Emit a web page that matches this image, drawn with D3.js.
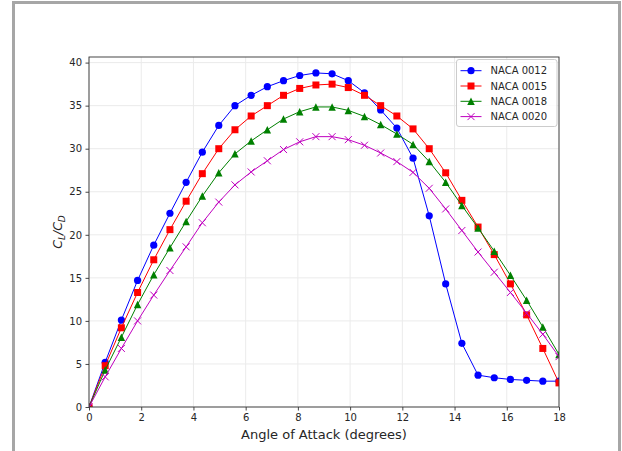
<!DOCTYPE html>
<html>
<head>
<meta charset="utf-8">
<script src="https://cdn.jsdelivr.net/npm/d3@7/dist/d3.min.js"></script>
<style>
  html, body { margin: 0; padding: 0; background: #fff; }
  svg { display: block; font-family: "DejaVu Sans", sans-serif; }
</style>
</head>
<body>
<svg id="chart" width="622" height="451"></svg>
<script>
const angles = [0, 0.62, 1.24, 1.86, 2.48, 3.10, 3.72, 4.34, 4.97, 5.59, 6.21, 6.83, 7.45, 8.07, 8.69,
  9.31, 9.93, 10.55, 11.17, 11.79, 12.41, 13.03, 13.66, 14.28, 14.90, 15.52, 16.14, 16.76, 17.38, 18.00];
const naca0012 = [0, 5.2, 10.1, 14.7, 18.8, 22.5, 26.1, 29.6, 32.7, 35.0, 36.2, 37.2, 37.9, 38.5, 38.8,
  38.7, 37.9, 36.5, 34.5, 32.4, 28.9, 22.2, 14.3, 7.4, 3.7, 3.4, 3.2, 3.1, 3.0, 3.0];
const naca0015 = [0, 4.8, 9.2, 13.3, 17.1, 20.6, 23.9, 27.1, 30.0, 32.2, 33.8, 35.0, 36.2, 37.0, 37.4,
  37.5, 37.1, 36.2, 35.0, 33.8, 32.3, 30.0, 27.2, 24.0, 20.9, 17.7, 14.3, 10.7, 6.8, 2.8];
const naca0018 = [0, 4.3, 8.1, 11.9, 15.35, 18.5, 21.55, 24.5, 27.2, 29.4, 30.9, 32.2, 33.45, 34.3, 34.85,
  34.85, 34.45, 33.75, 32.8, 31.7, 30.5, 28.5, 26.1, 23.4, 20.8, 18.1, 15.3, 12.4, 9.3, 6.1];
const naca0020 = [0, 3.5, 6.8, 10.0, 13.0, 15.85, 18.6, 21.4, 23.8, 25.8, 27.3, 28.6, 29.9, 30.8, 31.4,
  31.4, 31.05, 30.4, 29.5, 28.5, 27.25, 25.4, 23.0, 20.5, 18.0, 15.65, 13.3, 10.9, 8.45, 5.85];
const seriesNames = ["NACA 0012", "NACA 0015", "NACA 0018", "NACA 0020"];
const xTicks = [0, 2, 4, 6, 8, 10, 12, 14, 16, 18];
const yTicks = [0, 5, 10, 15, 20, 25, 30, 35, 40];

const seriesValues = [naca0012, naca0015, naca0018, naca0020];
const colors = ["#0000ff", "#ff0000", "#008000", "#bf00bf"];
const markers = ["circle", "square", "triangle", "x"];

const svg = d3.select("#chart");
const m = { left: 89, right: 559, top: 57, bottom: 407 };

// figure frame
svg.append("rect").attr("x", 13.5).attr("y", 2.5).attr("width", 606).attr("height", 460)
  .attr("fill", "#fff").attr("stroke", "#a6a6a6").attr("stroke-width", 3);

const x = d3.scaleLinear().domain([0, 18]).range([m.left, m.right]);
const y = d3.scaleLinear().domain([0, 40.65]).range([m.bottom, m.top]);

svg.append("defs").append("clipPath").attr("id", "clip")
  .append("rect").attr("x", m.left).attr("y", m.top)
  .attr("width", m.right - m.left).attr("height", m.bottom - m.top);

// grid
const grid = svg.append("g");
grid.selectAll(".gx").data(xTicks).join("line")
  .attr("x1", d => x(d)).attr("x2", d => x(d)).attr("y1", m.top).attr("y2", m.bottom)
  .attr("stroke", "#ebebeb").attr("stroke-width", 1);
grid.selectAll(".gy").data(yTicks).join("line")
  .attr("x1", m.left).attr("x2", m.right).attr("y1", d => y(d)).attr("y2", d => y(d))
  .attr("stroke", "#ebebeb").attr("stroke-width", 1);

function markerPath(type, s) {
  const h = s / 2;
  if (type === "square") return `M${-h},${-h}H${h}V${h}H${-h}Z`;
  if (type === "triangle") return `M0,${-h}L${h},${h}L${-h},${h}Z`;
  if (type === "x") return `M${-h},${-h}L${h},${h}M${-h},${h}L${h},${-h}`;
  return null;
}

function drawMarker(g, type, color, cx, cy) {
  if (type === "circle") {
    g.append("circle").attr("cx", cx).attr("cy", cy).attr("r", 3.6).attr("fill", color);
  } else if (type === "x") {
    g.append("path").attr("transform", `translate(${cx},${cy})`).attr("d", markerPath("x", 7))
      .attr("stroke", color).attr("stroke-width", 1).attr("fill", "none");
  } else if (type === "square") {
    g.append("path").attr("transform", `translate(${cx},${cy})`).attr("d", markerPath("square", 7))
      .attr("fill", color);
  } else {
    g.append("path").attr("transform", `translate(${cx},${cy})`).attr("d", markerPath("triangle", 7.5))
      .attr("fill", color);
  }
}

const plot = svg.append("g").attr("clip-path", "url(#clip)");
const line = d3.line().x((d, i) => x(angles[i])).y(d => y(d));
seriesValues.forEach((vals, si) => {
  const g = plot.append("g");
  g.append("path").attr("d", line(vals)).attr("fill", "none")
    .attr("stroke", colors[si]).attr("stroke-width", 1);
  vals.forEach((v, i) => drawMarker(g, markers[si], colors[si], x(angles[i]), y(v)));
});

// axes
const xAxis = d3.axisBottom(x).tickValues(xTicks).tickSize(3.5).tickPadding(3.5).tickFormat(d3.format("d"));
const yAxis = d3.axisLeft(y).tickValues(yTicks).tickSize(3.5).tickPadding(3.5).tickFormat(d3.format("d"));
const gx = svg.append("g").attr("transform", `translate(0,${m.bottom})`).call(xAxis);
const gy = svg.append("g").attr("transform", `translate(${m.left},0)`).call(yAxis);
[gx, gy].forEach(g => {
  g.select(".domain").remove();
  g.selectAll("line").attr("stroke", "#333").attr("stroke-width", 0.9);
  g.selectAll("text").attr("fill", "#262626").style("font-size", "10px")
    .style("font-family", "DejaVu Sans, sans-serif");
});
// spines
svg.append("rect").attr("x", m.left).attr("y", m.top).attr("width", m.right - m.left)
  .attr("height", m.bottom - m.top).attr("fill", "none").attr("stroke", "#333").attr("stroke-width", 0.9);

// axis labels
svg.append("text").attr("x", (m.left + m.right) / 2).attr("y", 438.5)
  .attr("text-anchor", "middle").attr("fill", "#262626").style("font-size", "13px")
  .text("Angle of Attack (degrees)");

const yl = svg.append("text").attr("transform", `translate(62,${(m.top + m.bottom) / 2}) rotate(-90)`)
  .attr("text-anchor", "middle").attr("fill", "#262626").style("font-size", "12.5px")
  .style("font-style", "italic");
yl.append("tspan").text("C");
yl.append("tspan").attr("dy", 3).style("font-size", "9px").text("L");
yl.append("tspan").attr("dy", -3).text("/C");
yl.append("tspan").attr("dy", 3).style("font-size", "9px").text("D");

// legend
const lg = svg.append("g");
lg.append("rect").attr("x", 456.5).attr("y", 59.5).attr("width", 100.5).attr("height", 67)
  .attr("rx", 2.5).attr("fill", "#fff").attr("fill-opacity", 0.8)
  .attr("stroke", "#cccccc").attr("stroke-width", 1);
seriesNames.forEach((name, si) => {
  const cy = 70.7 + si * 15.3;
  lg.append("line").attr("x1", 460.5).attr("x2", 481.5).attr("y1", cy).attr("y2", cy)
    .attr("stroke", colors[si]).attr("stroke-width", 1);
  drawMarker(lg, markers[si], colors[si], 471, cy);
  lg.append("text").attr("x", 490.5).attr("y", cy + 3.6).attr("fill", "#262626")
    .style("font-size", "10px").text(name);
});
</script>
</body>
</html>
